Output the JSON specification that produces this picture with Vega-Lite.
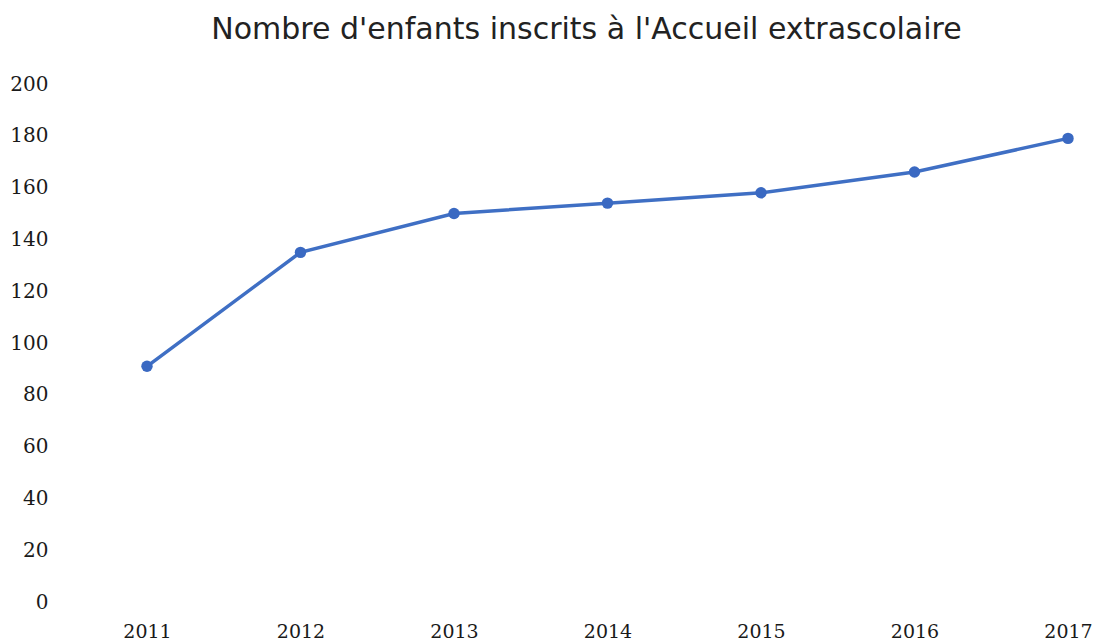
{
  "$schema": "https://vega.github.io/schema/vega-lite/v6.json",
  "autosize": {"type": "none"},
  "width": 921,
  "height": 518,
  "padding": {"left": 147, "top": 84, "right": 25, "bottom": 38},
  "background": "white",
  "title": {
    "text": "Nombre d'enfants inscrits à l'Accueil extrascolaire",
    "font": "DejaVu Sans",
    "fontWeight": "normal",
    "fontSize": 30,
    "color": "#222222",
    "anchor": "middle",
    "frame": "group",
    "offset": 29,
    "dx": -21
  },
  "config": {"view": {"stroke": null}},
  "data": {
    "values": [
      {"year": "2011", "n": 91},
      {"year": "2012", "n": 135},
      {"year": "2013", "n": 150},
      {"year": "2014", "n": 154},
      {"year": "2015", "n": 158},
      {"year": "2016", "n": 166},
      {"year": "2017", "n": 179}
    ]
  },
  "encoding": {
    "x": {
      "field": "year",
      "type": "ordinal",
      "scale": {"type": "point", "padding": 0},
      "axis": {
        "title": null,
        "labelAngle": 0,
        "domain": false,
        "ticks": false,
        "labelPadding": 20,
        "labelFont": "DejaVu Serif",
        "labelFontSize": 19,
        "labelColor": "#1a1a1a",
        "labelBaseline": "top"
      }
    },
    "y": {
      "field": "n",
      "type": "quantitative",
      "scale": {"domain": [0, 200]},
      "axis": {
        "title": null,
        "values": [0, 20, 40, 60, 80, 100, 120, 140, 160, 180, 200],
        "grid": false,
        "domain": false,
        "ticks": false,
        "labelPadding": 99,
        "labelFont": "DejaVu Serif",
        "labelFontSize": 20,
        "labelColor": "#1a1a1a"
      }
    }
  },
  "layer": [
    {"mark": {"type": "line", "color": "#3f6fc4", "strokeWidth": 3.5}},
    {"mark": {"type": "point", "filled": true, "color": "#3a69c2", "size": 130, "opacity": 1}}
  ]
}
